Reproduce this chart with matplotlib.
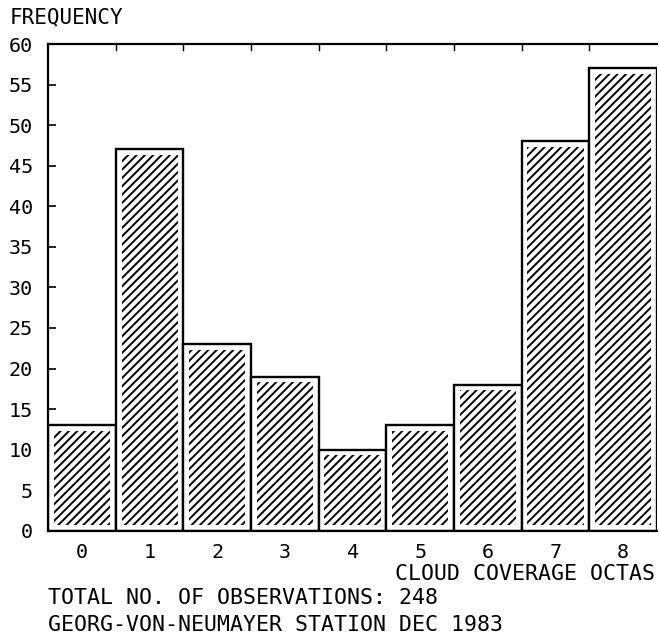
import matplotlib.pyplot as plt

octas = [0, 1, 2, 3, 4, 5, 6, 7, 8]
frequency = [13, 47, 23, 19, 10, 13, 18, 48, 57]
y_ticks = [0, 5, 10, 15, 20, 25, 30, 35, 40, 45, 50, 55, 60]

plt.rcParams['font.family'] = 'DejaVu Sans Mono'
plt.rcParams['hatch.linewidth'] = 1.4

fig = plt.figure(figsize=(6.59, 6.38), dpi=100)
ax = fig.add_axes([0.073, 0.168, 0.924, 0.763])

# outer boxes
ax.bar(octas, frequency, width=1.0, facecolor='white', edgecolor='black', linewidth=1.7, zorder=2)
# hatching sits a little inside each box
inner_h = [v - 1.4 for v in frequency]
ax.bar(octas, inner_h, bottom=0.7, width=0.83, facecolor='white', edgecolor='black',
       linewidth=0, hatch='////', zorder=3)

ax.set_xlim(-0.5, 8.5)
ax.set_ylim(0, 60)
ax.set_yticks(y_ticks)
ax.set_xticks(octas)
ax.tick_params(axis='y', direction='in', length=6, width=1.2, pad=11, labelsize=14.5)
ax.tick_params(axis='x', length=0, pad=9, labelsize=14.5)

# small ticks on the top frame between the bars
for b in range(8):
    ax.plot([b + 0.5, b + 0.5], [60, 59.3], color='black', lw=1.0, clip_on=False)

for s in ['left', 'top', 'bottom']:
    ax.spines[s].set_linewidth(1.6)
ax.spines['right'].set_visible(False)

fig.text(0.015, 0.973, 'FREQUENCY', fontsize=15, va='center', ha='left')
fig.text(0.994, 0.100, 'CLOUD COVERAGE OCTAS', fontsize=15.5, va='center', ha='right')
fig.text(0.073, 0.063, 'TOTAL NO. OF OBSERVATIONS: 248', fontsize=15.5, va='center', ha='left')
fig.text(0.073, 0.020, 'GEORG-VON-NEUMAYER STATION DEC 1983', fontsize=15.5, va='center', ha='left')

fig.savefig('out.png', dpi=100)
